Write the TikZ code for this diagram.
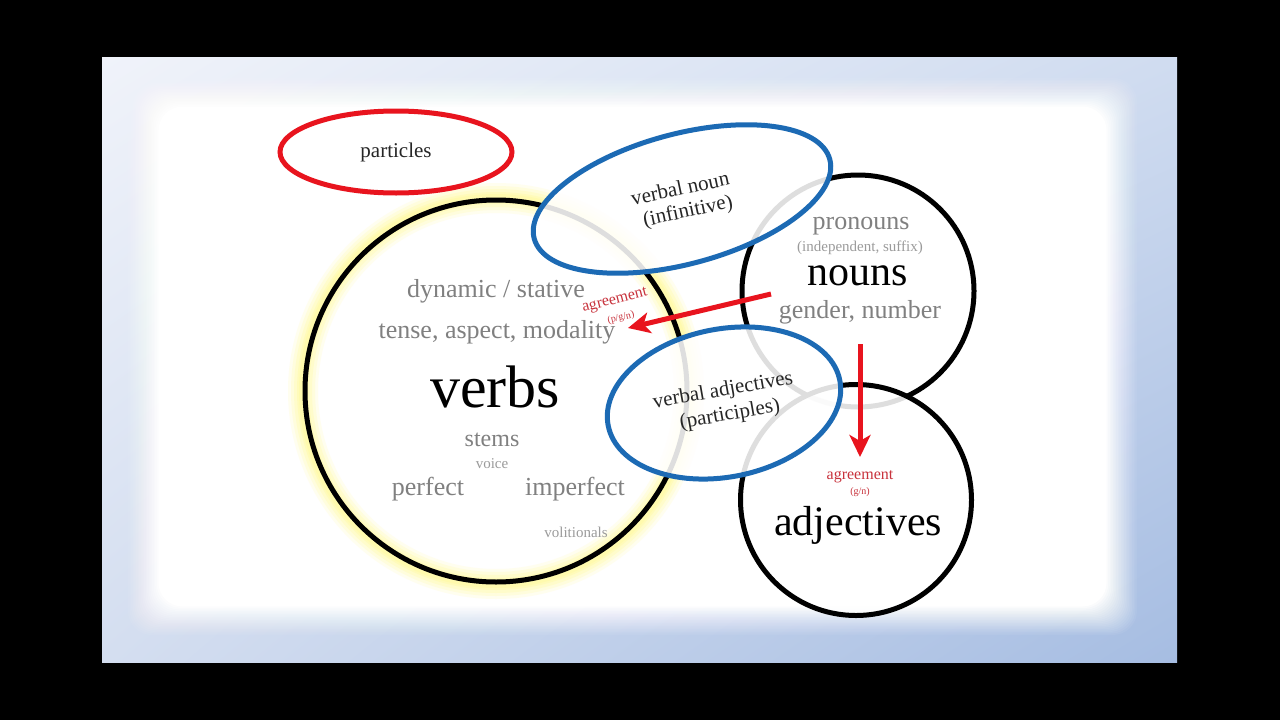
\documentclass[tikz,border=0pt]{standalone}
\usepackage{fontspec}
\setmainfont{Liberation Serif}
\usetikzlibrary{shapes.geometric,arrows.meta,shadings}
\definecolor{bluel}{RGB}{28,106,180}
\definecolor{redl}{RGB}{232,20,30}
\definecolor{redt}{RGB}{200,50,60}
\definecolor{greyt}{RGB}{128,128,128}
\definecolor{greyl}{RGB}{155,155,155}
\definecolor{glow}{RGB}{255,250,150}
\definecolor{bgA}{RGB}{240,243,250}
\definecolor{bgB}{RGB}{208,220,240}
\definecolor{bgC}{RGB}{212,222,240}
\definecolor{bgD}{RGB}{166,189,226}
\begin{document}
\begin{tikzpicture}[x=1pt,y=-1pt,
  big/.style={font=\fontsize{42}{50}\selectfont, text=black},
  huge/.style={font=\fontsize{60}{70}\selectfont, text=black},
  mid/.style={font=\fontsize{26}{31}\selectfont, text=greyt},
  small/.style={font=\fontsize{15}{18}\selectfont, text=greyl},
  lab/.style={font=\fontsize{21}{25}\selectfont, text=black!85},
  agr/.style={font=\fontsize{16}{19}\selectfont, text=redt},
  agrs/.style={font=\fontsize{10}{12}\selectfont, text=redt},
  ring/.style={circle, draw=black, line width=5pt, inner sep=0pt},
  veil/.style={fill=white, fill opacity=0.87},
  bluering/.style={ellipse, draw=bluel, line width=5pt, inner sep=0pt, veil},
  redarrow/.style={draw=redl, line width=5pt, -{Stealth[length=22pt,width=21pt,inset=6pt]}}
]
\useasboundingbox (0,0) rectangle (1280,720);
\fill[black] (0,0) rectangle (1280,720);
\shade[upper left=bgA, upper right=bgB, lower left=bgC, lower right=bgD] (102,57) rectangle (1177,662);
\foreach \i in {0,...,19}
  \fill[white, opacity={1/(20-\i)}, rounded corners=24pt] ({128+1.6*\i},{78+1.5*\i}) rectangle ({1137-1.6*\i},{635-1.5*\i});

% glow around verbs
\foreach \w/\o in {30/0.15, 24/0.2, 18/0.25, 12/0.3, 8/0.35}
  \draw[glow, line width=\w pt, opacity=\o] (496,391) circle[radius=193];

% particles
\node[ellipse, draw=redl, line width=5pt, inner sep=0pt, minimum width=232pt, minimum height=82pt,
      font=\fontsize{21}{25}\selectfont, text=black!85] (particles) at (396,152) {particles};

% main circles
\node[ring, minimum size=382pt] (verbs) at (496,391) {};
\node[ring, minimum size=232pt] (nouns) at (858,291) {};
\node[ring, veil, minimum size=231pt] (adj) at (856,500) {};

% blue ellipses
\node[bluering, minimum width=306pt, minimum height=130pt, rotate=15] (vnoun) at (682,199) {};
\node[bluering, minimum width=236pt, minimum height=148pt, rotate=11] (vadj) at (724,403) {};

% verbs texts
\node[mid, anchor=base] (dyn) at (496,297) {dynamic / stative};
\node[mid, anchor=base] (tam) at (497,338) {tense, aspect, modality};
\node[huge, anchor=base] (verbslab) at (495,407) {verbs};
\node[mid, anchor=base, font=\fontsize{24}{28}\selectfont] (stems) at (492,446) {stems};
\node[small, anchor=base] (voice) at (492,468) {voice};
\node[mid, anchor=base] (perf) at (428,495) {perfect};
\node[mid, anchor=base] (imperf) at (575,495) {imperfect};
\node[small, anchor=base] (volit) at (576,537) {volitionals};

% nouns texts
\node[mid, anchor=base] (pron) at (861,229) {pronouns};
\node[small, anchor=base] (indep) at (860,251) {(independent, suffix)};
\node[big, anchor=base] (nounslab) at (858,285) {nouns};
\node[mid, anchor=base] (gn) at (860,318) {gender, number};

% adjectives texts
\node[agr, anchor=base] (agr2) at (860,479) {agreement};
\node[agrs, anchor=base] (gn2) at (860,494) {(g/n)};
\node[big, anchor=base] (adjlab) at (858,535) {adjectives};

% ellipse labels
\node[lab, rotate=12] (vnounlab1) at (680,188) {verbal noun};
\node[lab, rotate=12] (vnounlab2) at (688,212) {(infinitive)};
\node[lab, rotate=10] (vadjlab1) at (723,391) {verbal adjectives};
\node[lab, rotate=10] (vadjlab2) at (730,415) {(participles)};

% agreement p/g/n
\node[agr, rotate=14] (agr1) at (615,301) {agreement};
\node[agrs, rotate=14] (pgn) at (621,318) {(p/g/n)};

% arrows
\coordinate (a1s) at (771,294);
\coordinate (a1e) at (628,328);
\coordinate (a2s) at (860,344);
\coordinate (a2e) at (860,457);
\draw[redarrow] (a1s) -- (a1e);
\draw[redarrow] (a2s) -- (a2e);
\end{tikzpicture}
\end{document}
